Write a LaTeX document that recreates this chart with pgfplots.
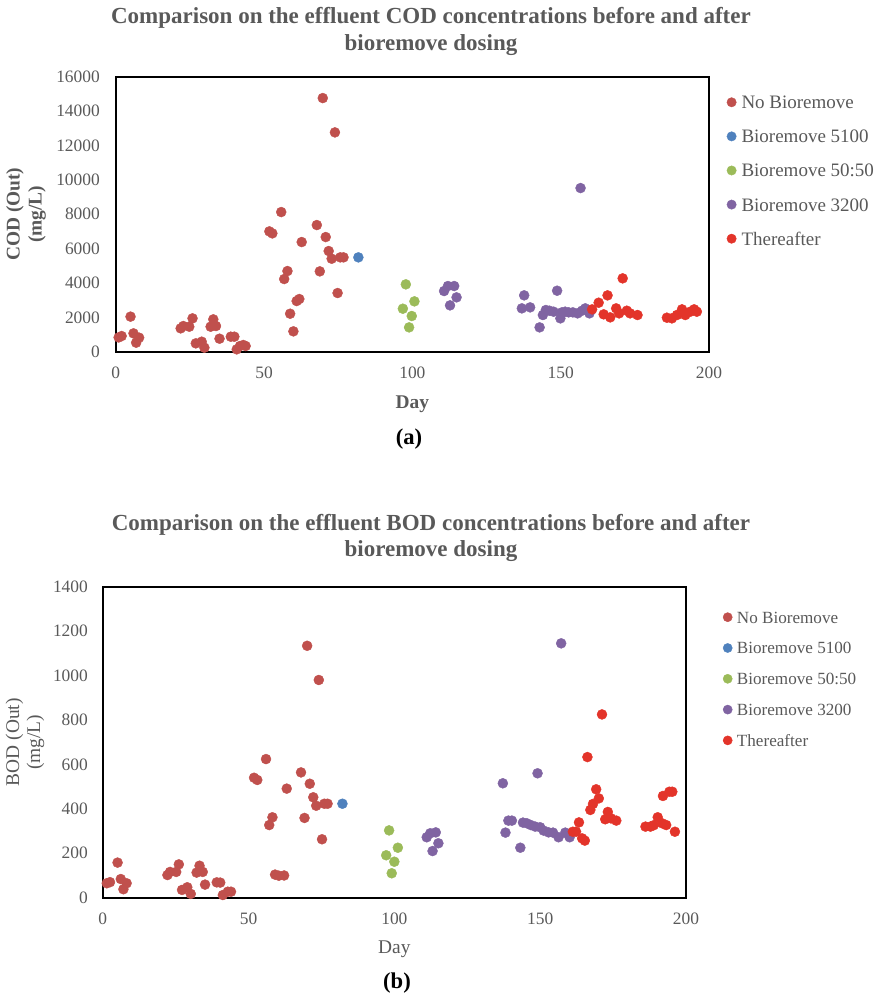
\documentclass[border=0pt]{standalone}
\usepackage{pgfplots}
\pgfplotsset{compat=1.18}
\usepackage{fontspec}
\setmainfont{Liberation Serif}
\definecolor{cNo}{HTML}{C0504D}
\definecolor{cA}{HTML}{4F81BD}
\definecolor{cB}{HTML}{9BBB59}
\definecolor{cC}{HTML}{8064A2}
\definecolor{cD}{HTML}{E3342A}
\definecolor{tgray}{HTML}{595959}
\pgfplotsset{
  common/.style={
    scale only axis, xmin=0, xmax=200, xtick={0,50,100,150,200},
    clip=false, scaled ticks=false,
    axis line style={black, line width=2pt},
    major tick length=0pt,
    /pgf/number format/assume math mode=true,
    /pgf/number format/1000 sep={},
    tick label style={font=\fontsize{17.4}{20}\selectfont, text=tgray},
    xticklabel style={anchor=center, yshift=-21.3pt},
    legend cell align=left,
  }
}
\begin{document}
\begin{tikzpicture}
\useasboundingbox (0,0) rectangle (878pt,995pt);
% ---------------- (a) COD ----------------
\begin{axis}[common, at={(115.7pt,643.3pt)}, anchor=south west,
  width=593.3pt, height=275pt,
  ymin=0, ymax=16000, ytick={0,2000,...,16000},
  yticklabel style={anchor=east, inner sep=0pt, xshift=-15.7pt},
  xlabel={Day},
  every axis x label/.style={at={(axis description cs:0.5,0)}, anchor=center, yshift=-53pt},
  xlabel style={font=\fontsize{19.4}{22}\selectfont\bfseries, text=tgray},
  ylabel={COD (Out)\\(mg/L)},
  every axis y label/.style={at={(axis description cs:-0.1512,0.5)}, rotate=90, anchor=center, align=center, font=\fontsize{19.4}{22}\selectfont\bfseries, text=tgray},
  title={Comparison on the effluent COD concentrations before and after\\bioremove dosing},
  title style={at={(axis description cs:0.5314,1.1426)}, anchor=center, align=center, font=\fontsize{23}{27}\selectfont\bfseries, text=tgray},
  legend style={at={(axis description cs:1.0295,0.9349)}, anchor=north west, draw=none, fill=none, inner sep=0pt, row sep=16.1pt,
    nodes={inner xsep=5pt, inner ysep=0pt, text height=14pt, text depth=4pt, font=\fontsize{19}{22}\selectfont, text=tgray}},
  legend image code/.code={\fill[#1] (0pt,1.5pt) circle (4.7pt);},
]
\addplot[only marks, mark=*, color=cNo, mark size=5pt] coordinates {
(1,830) (2,910) (5,2040) (6,1066) (7.9,815) (6.9,524) (21.9,1357) (22.8,1493) (24.8,1454) (25.9,1939) (27,485) (29,582) (29.9,233) (32.9,1881) (32,1454) (33.8,1493) (35,756) (38.8,873) (40,873) (40.8,136) (41.9,330) (43.8,330) (43,390) (55.8,8124) (51.8,7000) (52.8,6883) (62.7,6379) (67.8,7368) (70.8,6670) (69.8,14756) (73.9,12759) (71.8,5856) (72.8,5410) (75.7,5488) (76.8,5488) (57.9,4692) (56.8,4227) (68.8,4673) (74.8,3413) (61.9,3064) (61,2947) (58.8,2210) (59.9,1183)
};
\addplot[only marks, mark=*, color=cA, mark size=5pt] coordinates {(81.8,5488)};
\addplot[only marks, mark=*, color=cB, mark size=5pt] coordinates {
(97.8,3917) (100.7,2928) (96.8,2501) (99.8,2075) (98.9,1415)
};
\addplot[only marks, mark=*, color=cC, mark size=5pt] coordinates {
(110.7,3529) (112,3820) (114.1,3820) (114.9,3161) (112.7,2695) (137.7,3277) (136.9,2521) (139.7,2579) (142.9,1415) (148.8,3548) (144,2133) (145,2424) (146.2,2385) (147.6,2327) (149.9,1939) (150.4,2288) (151.5,2327) (152.7,2288) (154.1,2288) (155.7,2230) (156.7,9520) (157.2,2385) (158.3,2521) (159.7,2230)
};
\addplot[only marks, mark=*, color=cD, mark size=5pt] coordinates {
(160.6,2463) (162.8,2850) (164.5,2172) (165.8,3277) (166.7,1997) (168.7,2521) (169.7,2230) (170.9,4266) (172.3,2385) (173.4,2230) (175.9,2133) (185.8,1978) (187.5,1939) (189.2,2133) (190.9,2463) (192,2133) (193.7,2327) (195,2463) (195.9,2327)
};
\legend{No Bioremove, Bioremove 5100, Bioremove 50:50, Bioremove 3200, Thereafter}
\node[font=\fontsize{22.6}{26}\selectfont\bfseries, anchor=center] at (axis description cs:0.4944,-0.3175) {(a)};
\end{axis}
% ---------------- (b) BOD ----------------
\begin{axis}[common, at={(102.7pt,97.3pt)}, anchor=south west,
  width=583.3pt, height=311pt,
  ymin=0, ymax=1400, ytick={0,200,...,1400},
  yticklabel style={anchor=east, inner sep=0pt, xshift=-14.7pt},
  xlabel={Day},
  every axis x label/.style={at={(axis description cs:0.5,0)}, anchor=center, yshift=-52pt},
  xlabel style={font=\fontsize{19.4}{22}\selectfont, text=tgray},
  ylabel={BOD (Out)\\(mg/L)},
  every axis y label/.style={at={(axis description cs:-0.1332,0.5)}, rotate=90, anchor=center, align=center, font=\fontsize{19.4}{21}\selectfont, text=tgray},
  title={Comparison on the effluent BOD concentrations before and after\\bioremove dosing},
  title style={at={(axis description cs:0.5628,1.1373)}, anchor=center, align=center, font=\fontsize{23}{26.5}\selectfont\bfseries, text=tgray},
  legend style={at={(axis description cs:1.0629,0.9238)}, anchor=north west, draw=none, fill=none, inner sep=0pt, row sep=14.8pt,
    nodes={inner xsep=4.5pt, inner ysep=0pt, text height=12.5pt, text depth=3.5pt, font=\fontsize{17.1}{20}\selectfont, text=tgray}},
  legend image code/.code={\fill[#1] (0pt,1.4pt) circle (4.6pt);},
]
\addplot[only marks, mark=*, color=cNo, mark size=5pt] coordinates {
(1.4,65) (2.5,70) (5.1,158) (6.2,84) (8.2,65) (7.1,38) (22.2,102) (23.1,116) (25.2,116) (26.1,150) (27.2,35) (29,47) (30.2,17) (33.2,144) (32.2,113) (34.3,116) (35.1,59) (39.1,69) (40.3,68) (41.2,12) (42.9,27) (44,27) (56,624) (51.9,540) (53,530) (63.1,491) (68,564) (71,513) (70.1,1134) (74.1,980) (72.2,452) (73.2,414) (76,423) (77.1,423) (58.2,362) (57.1,327) (69.2,359) (75.2,263) (59.1,104) (60.4,99) (62.2,100)
};
\addplot[only marks, mark=*, color=cA, mark size=5pt] coordinates {(82.2,423)};
\addplot[only marks, mark=*, color=cB, mark size=5pt] coordinates {
(98.2,303) (97.2,191) (101.2,225) (100,162) (99.1,110)
};
\addplot[only marks, mark=*, color=cC, mark size=5pt] coordinates {
(111.1,272) (112.3,290) (114.2,294) (115.1,245) (113.1,210) (137.2,515) (138.1,293) (139.1,347) (140.3,347) (143.2,225) (149.1,560) (144.1,338) (145.4,335) (146.8,327) (148.3,320) (150,317) (151.2,302) (152.9,294) (154.4,293) (156.3,272) (157.2,1145) (158.6,293) (160.1,272)
};
\addplot[only marks, mark=*, color=cD, mark size=5pt] coordinates {
(161.2,297) (162.3,297) (163.3,339) (164.4,267) (165.3,257) (166.2,633) (167.2,395) (168.1,422) (169.2,488) (170.1,447) (171.2,825) (172.3,353) (173.2,386) (174.3,357) (176.1,347) (186.1,320) (187.8,320) (188.9,326) (190.3,362) (191.8,335) (193.2,327) (192.1,458) (194.3,477) (195.3,477) (196.2,297)
};
\legend{No Bioremove, Bioremove 5100, Bioremove 50:50, Bioremove 3200, Thereafter}
\node[font=\fontsize{22.6}{26}\selectfont\bfseries, anchor=center] at (axis description cs:0.5045,-0.2742) {(b)};
\end{axis}
\end{tikzpicture}
\end{document}
